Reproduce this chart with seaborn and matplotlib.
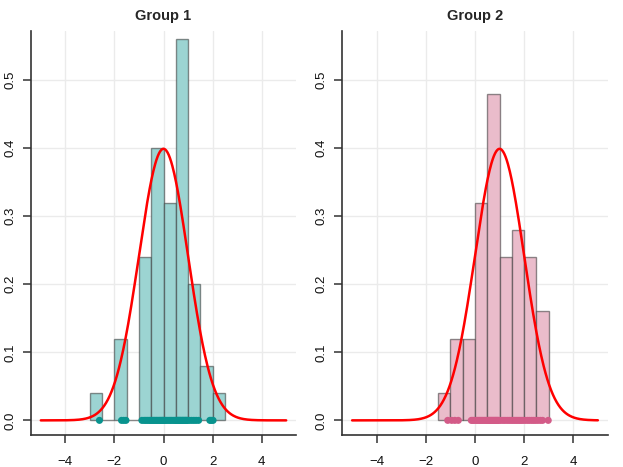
import numpy as np
import pandas as pd
import seaborn as sns
import matplotlib
matplotlib.use("Agg")
import matplotlib.pyplot as plt

group1 = [-2.61,
          -1.71, -1.62, -1.53,
          -0.88, -0.79, -0.72, -0.65, -0.58, -0.52,
          -0.47, -0.41, -0.36, -0.30, -0.25, -0.19, -0.14, -0.09, -0.05, -0.01,
          0.04, 0.09, 0.15, 0.22, 0.28, 0.34, 0.41, 0.47,
          0.52, 0.55, 0.59, 0.62, 0.66, 0.69, 0.73, 0.77, 0.80, 0.84, 0.88, 0.91, 0.95, 0.98,
          1.06, 1.15, 1.24, 1.33, 1.43,
          1.89, 1.95,
          2.02]
group2 = [-1.11,
          -0.95, -0.82, -0.68,
          -0.15, -0.09, -0.03,
          0.05, 0.11, 0.17, 0.23, 0.29, 0.35, 0.41, 0.47,
          0.53, 0.57, 0.61, 0.65, 0.69, 0.73, 0.77, 0.81, 0.85, 0.89, 0.93, 0.97,
          1.05, 1.14, 1.22, 1.31, 1.39, 1.47,
          1.54, 1.61, 1.68, 1.75, 1.82, 1.89, 1.96,
          2.05, 2.14, 2.22, 2.31, 2.39, 2.47,
          2.56, 2.66, 2.75, 2.98]

titles = ["Group 1", "Group 2"]
true_means = [0, 1]
true_sds = [1, 1]
bin_ranges = [(-3, 2.5), (-1.5, 3)]
fill_colors = ["#9CD4D2", "#EABCCB"]
point_colors = ["#08938E", "#D35B88"]
xticks = [-4, -2, 0, 2, 4]
yticks = [0.0, 0.1, 0.2, 0.3, 0.4, 0.5]

sns.set_style("white")
plt.rcParams['font.family'] = ['Liberation Sans', 'DejaVu Sans']

fig = plt.figure(figsize=(6.23, 4.67), dpi=100)
positions = [[31 / 623, 32 / 467, 265 / 623, 404.3 / 467],
             [342.3 / 623, 32 / 467, 265.4 / 623, 404.3 / 467]]

grid_x = np.linspace(-5, 5, 400)

for i, vals in enumerate([group1, group2]):
    ax = fig.add_axes(positions[i])
    ax.set_axisbelow(True)
    for gx in xticks:
        ax.axvline(gx, color="#EBEBEB", lw=1, zorder=0)
    for gy in yticks:
        ax.axhline(gy, color="#EBEBEB", lw=1, zorder=0)

    sns.histplot(x=vals, stat="density", binwidth=0.5, binrange=bin_ranges[i],
                 color=fill_colors[i], alpha=1, edgecolor=(0.2, 0.2, 0.2, 0.55),
                 linewidth=1, ax=ax, zorder=2)

    dens = np.exp(-0.5 * ((grid_x - true_means[i]) / true_sds[i]) ** 2) / (true_sds[i] * np.sqrt(2 * np.pi))
    sns.lineplot(x=grid_x, y=dens, color="red", lw=1.8, ax=ax, zorder=3)

    pts = pd.DataFrame({"x": vals, "y": np.zeros(len(vals))})
    sns.scatterplot(data=pts, x="x", y="y", color=point_colors[i], s=26,
                    edgecolor="none", ax=ax, zorder=4, clip_on=False)

    ax.set_xlim(-5.4, 5.4)
    ax.set_ylim(-0.0215, 0.5725)
    ax.set_xticks(xticks)
    ax.set_xticklabels([str(t).replace("-", "\u2212") for t in xticks])
    ax.set_yticks(yticks)
    ax.set_yticklabels(["%.1f" % t for t in yticks], rotation=90, va="center")
    ax.set_xlabel("")
    ax.set_ylabel("")
    for s in ["top", "right"]:
        ax.spines[s].set_visible(False)
    for s in ["left", "bottom"]:
        ax.spines[s].set_color("#333333")
        ax.spines[s].set_linewidth(1.2)
    ax.tick_params(axis="both", direction="out", length=6, width=1.1,
                   bottom=True, left=True,
                   color="#333333", labelsize=9.5, labelcolor="#111111")
    ax.tick_params(axis="x", pad=9)
    ax.tick_params(axis="y", pad=4.5)
    ax.set_title(titles[i], fontsize=10.5, fontweight="bold", pad=8)

fig.savefig("out.png", dpi=100)
